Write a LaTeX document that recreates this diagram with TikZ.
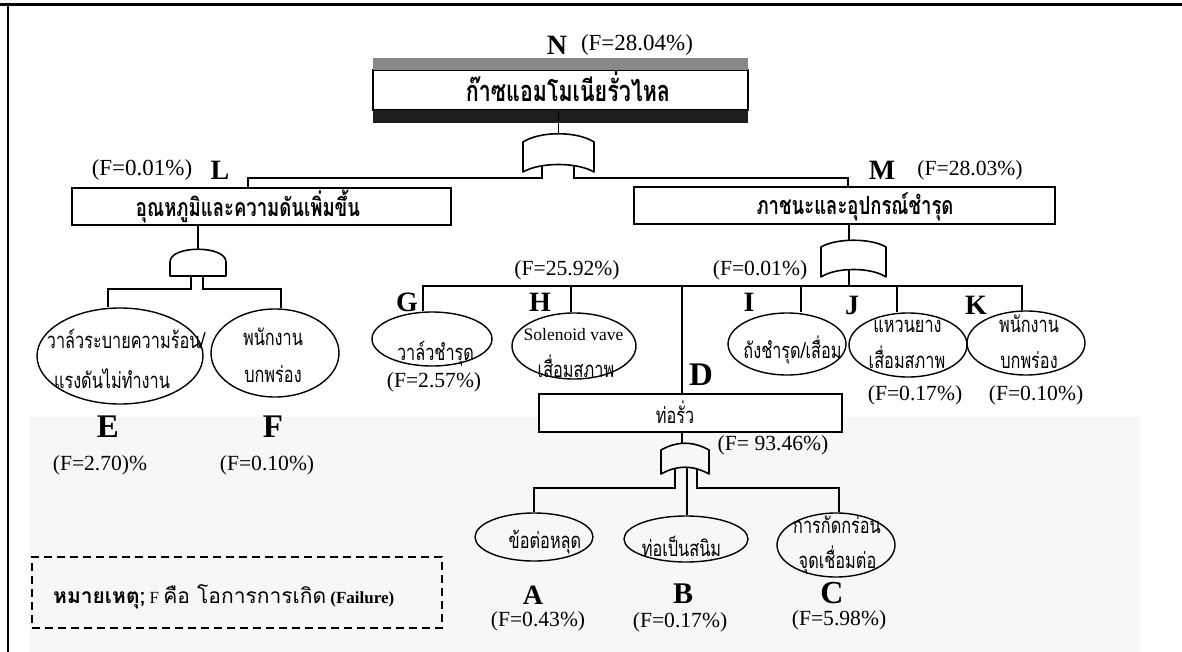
\documentclass[tikz,border=0pt]{standalone}
\usepackage{fontspec}
\setmainfont{Liberation Serif}
\newfontfamily\thai[Script=Thai, FakeStretch=0.74]{Loma}
\newfontfamily\thaiw[Script=Thai]{Loma}
\usetikzlibrary{shapes.geometric}
\definecolor{barg}{HTML}{888888}
\definecolor{bard}{HTML}{1E1E1E}
\definecolor{tint}{HTML}{F7F7F7}
\begin{document}
\begin{tikzpicture}[x=1pt,y=-1pt,
  box/.style={draw, line width=1.4pt, inner sep=0pt},
  oval/.style={draw, ellipse, line width=1.4pt, inner sep=0pt},
  th/.style={font=\thai\fontsize{22}{22}\selectfont, inner sep=0pt, anchor=base},
  thb/.style={font=\thai\bfseries\fontsize{25}{25}\selectfont, inner sep=0pt, anchor=base},
  lat/.style={font=\fontsize{17.5}{18}\selectfont, inner sep=0pt, anchor=base},
  fval/.style={font=\fontsize{21.6}{22}\selectfont, inner sep=0pt},
  fvalbig/.style={font=\fontsize{23}{23}\selectfont, inner sep=0pt},
  lab/.style={font=\bfseries\fontsize{28}{28}\selectfont, inner sep=0pt},
  labbig/.style={font=\bfseries\fontsize{33}{33}\selectfont, inner sep=0pt},
  wire/.style={line width=1.4pt},
  gate/.style={line width=1.6pt, line join=round}
]
\useasboundingbox (0,0) rectangle (1182,652);
% faint background tint of the lower part
\fill[tint] (30,417) rectangle (1140,652);
% frame
\draw[line width=3pt] (0,5) -- (1182,5);
\draw[line width=2.2pt] (8,3.5) -- (8,652);

% top event N
\node[box, minimum width=375pt, minimum height=40pt] (N) at (560.5,90) {};
\fill[barg] (373,58) rectangle (748,70);
\fill[bard] (373,110) rectangle (748,123);
\node[thb, font=\thai\bfseries\fontsize{29}{29}\selectfont] (Nt) at (568,102) {ก๊าซแอมโมเนียรั่วไหล};
\node[lab] (Nl) at (557,45) {N};
\node[fvalbig] (NF) at (637,45) {(F=28.04\%)};

% L
\node[box, minimum width=379pt, minimum height=37pt] (L) at (261.5,206.5) {};
\node[thb] (Lt) at (248,217) {อุณหภูมิและความดันเพิ่มขึ้น};
\node[lab] (Ll) at (220,170) {L};
\node[fvalbig] (LF) at (142,170) {(F=0.01\%)};

% M
\node[box, minimum width=421pt, minimum height=37pt] (M) at (844.5,205.5) {};
\node[thb] (Mt) at (855,215) {ภาชนะและอุปกรณ์ชำรุด};
\node[lab] (Ml) at (882,170) {M};
\node[fval] (MF) at (970,170) {(F=28.03\%)};

% top OR gate
\draw[gate] (523,172) -- (523,142) .. controls (540,131) and (577,131) .. (594,142) -- (594,172) .. controls (577,162) and (540,162) .. (523,172) -- cycle;
\coordinate (gNi) at (558.5,133.5);
\coordinate (gNl) at (542,166.2);
\coordinate (gNr) at (574,166.2);
\draw[wire] (gNi |- N.south) -- (gNi);
\draw[wire] (gNl) -- ++(0,11.8) -| ([xshift=-13.5pt]L.north);
\draw[wire] (gNr) -- ++(0,11.8) -| ([xshift=3.5pt]M.north);

% L AND gate
\draw[gate] (170,276) -- (170,262) .. controls (170,245) and (226,245) .. (226,262) -- (226,276) -- cycle;
\coordinate (gLi) at (198,249.3);
\coordinate (gLl) at (191,276);
\coordinate (gLr) at (203,276);
\draw[wire] (gLi |- L.south) -- (gLi);

% E, F
\node[oval, minimum width=166pt, minimum height=96pt] (E) at (120,356) {};
\node[oval, minimum width=128pt, minimum height=88pt] (F) at (275,353) {};
\draw[wire] (gLl) -- ++(0,13) -| ([xshift=-12pt]E.north);
\draw[wire] (gLr) -- ++(0,13) -| ([xshift=6pt]F.north);
\node[th] (Et1) at (126,348) {วาล์วระบายความร้อน/};
\node[th] (Et2) at (112,388) {แรงดันไม่ทำงาน};
\node[th] (Ft1) at (273,345) {พนักงาน};
\node[th] (Ft2) at (273,382) {บกพร่อง};
\node[labbig] (El) at (108,427) {E};
\node[labbig] (Fl) at (273,427) {F};
\node[fval] (EF) at (100,465) {(F=2.70)\%};
\node[fval] (FF) at (267,465) {(F=0.10\%)};

% M OR gate
\draw[gate] (821,277) -- (821,247) .. controls (836,238) and (871,238) .. (886,247) -- (886,277) .. controls (871,267) and (836,267) .. (821,277) -- cycle;
\coordinate (gMi) at (849,240.6);
\coordinate (gMo) at (849,269.6);
\coordinate (bus) at (849,286);
\draw[wire] (gMi |- M.south) -- (gMi);
\draw[wire] (gMo) -- (bus);

% children of M
\node[oval, minimum width=120pt, minimum height=54pt] (G) at (432,339) {};
\node[oval, minimum width=124pt, minimum height=66pt] (H) at (574,346) {};
\node[oval, minimum width=118pt, minimum height=62pt] (I) at (787,344) {};
\node[oval, minimum width=118pt, minimum height=64pt] (J) at (908,345) {};
\node[oval, minimum width=118pt, minimum height=64pt] (K) at (1026,343) {};
\node[box, fill=white, minimum width=303pt, minimum height=38pt] (D) at (690.5,413) {};

\draw[wire] ([xshift=-9pt]G.north) |- (bus);
\draw[wire] ([xshift=-3pt]H.north) |- (bus);
\draw[wire] ([xshift=-8.5pt]D.north) |- (bus);
\draw[wire] ([xshift=14pt]I.north) |- (bus);
\draw[wire] ([xshift=-11pt]J.north) |- (bus);
\draw[wire] ([xshift=-4pt]K.north) |- (bus);

\node[th] (Gt) at (435.5,360) {วาล์วชำรุด};
\node[lat] (Ht1) at (573.5,340) {Solenoid vave};
\node[th] (Ht2) at (576,377) {เสื่อมสภาพ};
\node[th] (It) at (792.5,358) {ถังชำรุด/เสื่อม};
\node[th] (Jt1) at (907.5,332) {แหวนยาง};
\node[th] (Jt2) at (907,368) {เสื่อมสภาพ};
\node[th] (Kt1) at (1029,332) {พนักงาน};
\node[th] (Kt2) at (1029,368) {บกพร่อง};
\node[th] (Dt) at (675,423) {ท่อรั่ว};

\node[lab] (Gl) at (407,302) {G};
\node[lab] (Hl) at (540,302) {H};
\node[lab] (Il) at (749,302) {I};
\node[lab] (Jl) at (852,305) {J};
\node[lab] (Kl) at (976,305) {K};
\node[labbig] (Dl) at (701,375) {D};

\node[fval] (GF) at (434,382) {(F=2.57\%)};
\node[fval] (HF) at (567,270) {(F=25.92\%)};
\node[fval] (IF) at (760,270) {(F=0.01\%)};
\node[fval] (JF) at (915,395) {(F=0.17\%)};
\node[fval] (KF) at (1036,395) {(F=0.10\%)};

% D OR gate
\draw[gate] (661,474) -- (661,450) .. controls (677,441) and (693,441) .. (709,450) -- (709,474) .. controls (693,465) and (677,465) .. (661,474) -- cycle;
\coordinate (gDi) at (682,443.6);
\coordinate (gDl) at (675,468.4);
\coordinate (gDc) at (687,467.3);
\coordinate (gDr) at (697,468.9);
\draw[wire] (gDi |- D.south) -- (gDi);
\node[fval] (DF) at (773,445) {(F= 93.46\%)};

\node[oval, minimum width=118pt, minimum height=48pt] (A) at (534,537) {};
\node[oval, minimum width=124pt, minimum height=46pt] (B) at (686,539) {};
\node[oval, minimum width=118pt, minimum height=64pt] (C) at (836,545) {};
\draw[wire] (gDl) -- ++(0,19.6) -| (A.north);
\draw[wire] (gDc) -- (gDc |- B.north);
\draw[wire] (gDr) -- ++(0,19.1) -| ([xshift=3pt]C.north);

\node[th] (At) at (545,548) {ข้อต่อหลุด};
\node[th] (Bt) at (681.5,556) {ท่อเป็นสนิม};
\node[th] (Ct1) at (837,533) {การกัดกร่อน};
\node[th] (Ct2) at (837.5,568) {จุดเชื่อมต่อ};

\node[lab] (Al) at (533,595) {A};
\node[labbig, font=\bfseries\fontsize{30}{30}\selectfont] (Bl) at (683,594) {B};
\node[labbig, font=\bfseries\fontsize{32}{32}\selectfont] (Cl) at (832,593) {C};
\node[fval] (AF) at (538,621) {(F=0.43\%)};
\node[fval] (BF) at (680,622) {(F=0.17\%)};
\node[fval] (CF) at (839,620) {(F=5.98\%)};

% legend
\node[draw, dash pattern=on 8pt off 5pt, line width=1.4pt, minimum width=410pt, minimum height=71pt, inner sep=0pt] (leg) at (237,592.5) {};
\node[anchor=base west, inner sep=0pt, font=\fontsize{17}{20}\selectfont] (legt) at (53,603) {{\thaiw\bfseries\fontsize{21}{21}\selectfont หมายเหตุ;} F {\thaiw\fontsize{21}{21}\selectfont คือ โอการการเกิด} {\bfseries (Failure)}};
\end{tikzpicture}
\end{document}
